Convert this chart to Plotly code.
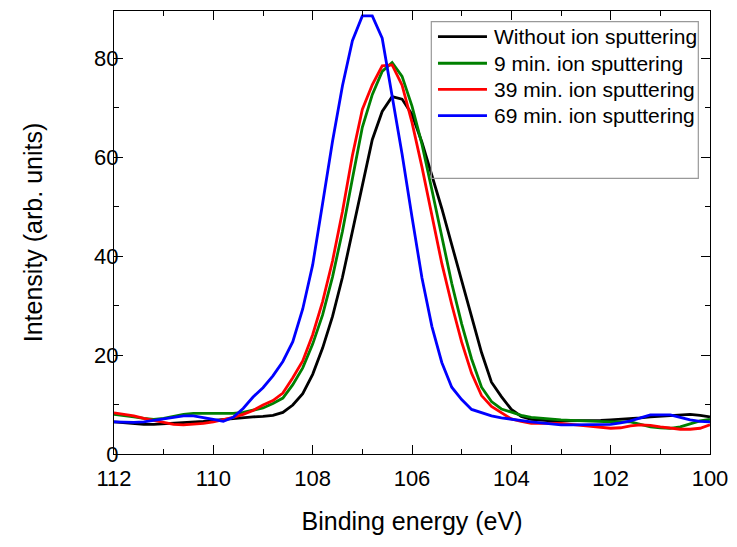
import plotly.graph_objects as go

energy = [round(112.0 - 0.2 * i, 1) for i in range(61)]

without_sputter = [6.5, 6.3, 6.1, 6.0, 6.0, 6.1, 6.2, 6.4, 6.5, 6.6,
                   6.8, 7.0, 7.2, 7.4, 7.5, 7.6, 7.8, 8.4, 9.9, 12.2,
                   16.1, 21.4, 27.8, 35.7, 45.0, 54.7, 63.5, 69.2, 72.2, 71.7,
                   68.6, 63.0, 56.4, 49.6, 42.3, 34.9, 28.0, 20.5, 14.5, 11.6,
                   9.0, 7.6, 7.0, 6.8, 6.7, 6.7, 6.7, 6.7, 6.7, 6.8,
                   6.9, 7.0, 7.2, 7.3, 7.5, 7.6, 7.8, 7.9, 8.0, 7.8, 7.5]

sputter_9 = [8.0, 7.8, 7.5, 7.2, 7.0, 7.2, 7.6, 8.0, 8.2, 8.2,
             8.1, 8.1, 8.2, 8.4, 8.8, 9.3, 10.2, 11.3, 14.0, 17.4,
             22.2, 28.1, 35.8, 45.0, 55.6, 66.0, 72.6, 77.3, 79.1, 76.3,
             70.3, 62.6, 53.4, 44.0, 34.5, 26.3, 19.2, 13.5, 10.6, 9.1,
             8.4, 7.8, 7.4, 7.2, 7.0, 6.9, 6.8, 6.7, 6.6, 6.5,
             6.5, 6.5, 6.5, 6.0, 5.5, 5.3, 5.2, 5.5, 6.1, 6.7, 7.0]

sputter_39 = [8.3, 8.0, 7.7, 7.2, 6.8, 6.3, 6.0, 5.9, 6.0, 6.2,
              6.5, 6.9, 7.4, 8.0, 8.8, 9.9, 10.8, 12.3, 15.4, 18.8,
              24.1, 30.8, 39.0, 49.0, 60.3, 69.6, 74.6, 78.4, 78.6, 74.5,
              67.0, 58.0, 48.0, 38.5, 30.2, 22.6, 16.3, 11.8, 9.6, 8.4,
              7.1, 6.6, 6.2, 6.2, 6.2, 6.2, 6.0, 5.8, 5.6, 5.5,
              5.2, 5.3, 5.7, 5.9, 5.8, 5.5, 5.3, 5.0, 5.0, 5.2, 5.9]

sputter_69 = [6.5, 6.4, 6.4, 6.5, 6.8, 7.1, 7.4, 7.7, 7.7, 7.4,
              7.0, 6.6, 7.4, 9.2, 11.5, 13.4, 15.8, 18.7, 22.7, 29.3,
              38.2, 50.6, 63.2, 74.4, 83.5, 88.5, 88.5, 84.0, 72.7, 60.6,
              47.9, 35.6, 25.8, 18.5, 13.5, 11.0, 9.0, 8.3, 7.7, 7.3,
              7.0, 6.7, 6.5, 6.3, 6.1, 5.9, 5.9, 5.9, 5.9, 5.9,
              6.0, 6.3, 6.7, 7.3, 7.9, 7.9, 7.9, 7.4, 6.9, 6.6, 6.5]

series_names = ["Without ion sputtering", "9 min. ion sputtering",
                "39 min. ion sputtering", "69 min. ion sputtering"]
series_values = [without_sputter, sputter_9, sputter_39, sputter_69]
series_colors = ["#000000", "#008000", "#ff0000", "#0000ff"]

x_ticks = [112, 110, 108, 106, 104, 102, 100]
y_ticks = [0, 20, 40, 60, 80]

fig = go.Figure()
for name, vals, col in zip(series_names, series_values, series_colors):
    fig.add_trace(go.Scatter(x=energy, y=vals, mode="lines", name=name,
                             line=dict(color=col, width=2.8), showlegend=False))

font_family = "Liberation Sans, Arial, sans-serif"
axis_common = dict(showline=True, linecolor="black", linewidth=1.2, mirror="ticks",
                   ticks="inside", ticklen=9, tickwidth=1.2, tickcolor="black",
                   showgrid=False, zeroline=False,
                   tickfont=dict(family=font_family, size=22, color="black"),
                   minor=dict(ticks="inside", ticklen=5, tickwidth=1.2, tickcolor="black"))

fig.update_xaxes(range=[112, 100], tickvals=x_ticks,
                 title=dict(text="Binding energy (eV)",
                            font=dict(family=font_family, size=25, color="black"),
                            standoff=22),
                 **axis_common)
fig.update_xaxes(minor=dict(dtick=1), ticklabelstandoff=4)
fig.update_yaxes(range=[0, 89.5], tickvals=y_ticks,
                 title=dict(text="Intensity (arb. units)",
                            font=dict(family=font_family, size=25, color="black"),
                            standoff=44),
                 **axis_common)
fig.update_yaxes(minor=dict(dtick=10), ticklabelstandoff=-10)

# legend box, drawn in paper coordinates
fig.add_shape(type="rect", xref="paper", yref="paper",
              x0=0.5324, x1=0.9804, y0=0.6223, y1=0.9759,
              line=dict(color="#999999", width=1.2), fillcolor="rgba(0,0,0,0)")
legend_rows = [0.942, 0.882, 0.823, 0.764]
for name, col, yr in zip(series_names, series_colors, legend_rows):
    fig.add_shape(type="line", xref="paper", yref="paper",
                  x0=0.5436, x1=0.6258, y0=yr, y1=yr,
                  line=dict(color=col, width=2.8))
    fig.add_annotation(xref="paper", yref="paper", x=0.6337, y=yr,
                       xanchor="left", yanchor="middle", showarrow=False,
                       text=name,
                       font=dict(family=font_family, size=21, color="black"))

fig.update_layout(
    width=737, height=547,
    margin=dict(l=114, r=27, t=11, b=93, autoexpand=False),
    paper_bgcolor="white", plot_bgcolor="white",
    showlegend=False,
)

fig.write_html("out.html", config={"displayModeBar": False},
               post_script="document.body.style.margin='0';document.body.style.padding='0';")
